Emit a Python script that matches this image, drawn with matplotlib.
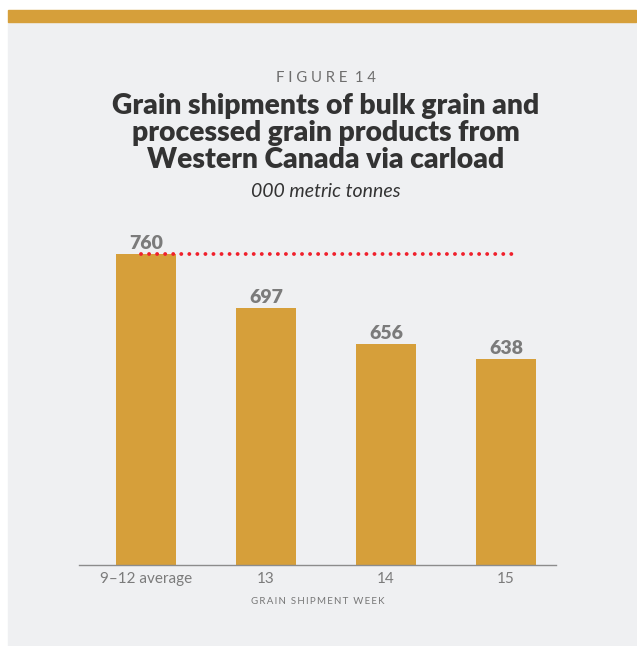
import matplotlib.pyplot as plt
from matplotlib.patches import Rectangle

# Carload shipments, 000 metric tonnes
weeks = ['9\u201312 average', '13', '14', '15']
shipments = [760, 697, 656, 638]
average = shipments[0]

GOLD = '#D69F3A'
PANEL = '#EFF0F2'
GREY = '#7B7B7B'
DARK = '#333333'

plt.rcParams['font.family'] = ['Lato', 'DejaVu Sans']

W, H = 637, 646
fig = plt.figure(figsize=(W / 100, H / 100), dpi=100, facecolor='white')

# background panel and the gold band across the top
fig.patches.append(Rectangle((8 / W, 0), (W - 9) / W, (H - 22) / H,
                             transform=fig.transFigure, color=PANEL, zorder=-2))
fig.patches.append(Rectangle((8 / W, (H - 22) / H), (W - 9) / W, 12 / H,
                             transform=fig.transFigure, color=GOLD, zorder=-2))

def fy(px):
    return 1 - px / H

thin = '\u2009'
fig.text(326 / W, fy(78), ' '.join('FIGURE') + '  ' + ' '.join('14'),
         ha='center', va='center', fontsize=10.7, color='#6E6E6E')
title = ('Grain shipments of bulk grain and\n'
         'processed grain products from\n'
         'Western Canada via carload')
fig.text(326 / W, fy(133), title, ha='center', va='center', fontsize=20.3,
         fontweight='heavy', color=DARK, linespacing=1.05)
fig.text(326 / W, fy(191), '000 metric tonnes', ha='center', va='center',
         fontsize=14, style='italic', color=DARK)

ax = fig.add_axes([79 / W, 81 / H, 477 / W, 345.6 / H])
ax.set_facecolor('none')
x = range(len(weeks))
bars = ax.bar(x, shipments, width=0.5, color=GOLD, zorder=2)
for b, v in zip(bars, shipments):
    ax.annotate(f'{v}', (b.get_x() + b.get_width() / 2, v), xytext=(0, 3.6),
                textcoords='offset points', ha='center', va='baseline',
                fontsize=14, fontweight='heavy', color=GREY)

# dotted reference line at the 9-12 week average
ax.plot([-0.04, 3.07], [average, average], color='#F0202C', lw=2.8,
        linestyle=(0, (0.01, 2.06)), dash_capstyle='round', zorder=3)

ax.set_ylim(400, 800)
ax.set_xlim(-0.558, 3.417)
ax.set_xticks(list(x))
ax.set_xticklabels(weeks)
ax.tick_params(axis='x', length=0, pad=5, labelsize=11, labelcolor=GREY)
ax.set_yticks([])
for s in ['top', 'right', 'left']:
    ax.spines[s].set_visible(False)
ax.spines['bottom'].set_color('#8C8C8C')
ax.spines['bottom'].set_linewidth(1)
ax.set_xlabel(thin.join('GRAIN') + '  ' + thin.join('SHIPMENT') + '  ' + thin.join('WEEK'),
              fontsize=7, color='#777777', labelpad=8)

fig.savefig('out.png', dpi=100, facecolor='white')
